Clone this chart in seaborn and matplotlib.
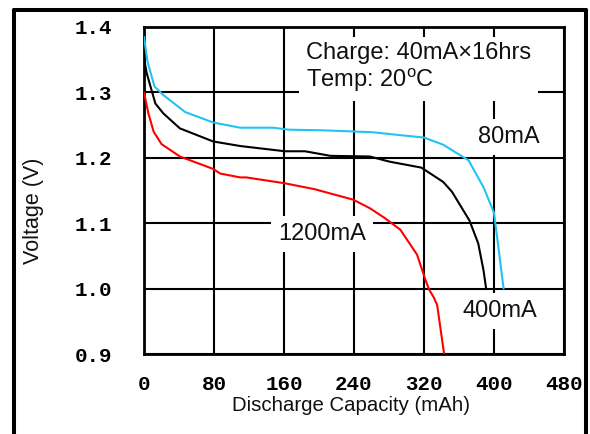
import numpy as np
import pandas as pd
import matplotlib
matplotlib.use("Agg")
import matplotlib.pyplot as plt
import seaborn as sns
from matplotlib.lines import Line2D

# ---- data ----
cap_80 = [0, 4, 12, 22, 47, 79, 110, 148, 165, 205, 262, 290, 320, 342, 371, 388, 400, 404, 411]
v_80 = [1.385, 1.347, 1.309, 1.296, 1.270, 1.254, 1.246, 1.246, 1.243, 1.242, 1.239, 1.235,
        1.231, 1.220, 1.196, 1.155, 1.116, 1.074, 1.000]

cap_400 = [0, 3, 7, 13, 22, 41, 79, 110, 161, 184, 213, 258, 281, 317, 342, 352, 372, 382, 388, 391]
v_400 = [1.352, 1.330, 1.311, 1.283, 1.268, 1.245, 1.225, 1.218, 1.210, 1.210, 1.203, 1.202,
         1.194, 1.185, 1.163, 1.148, 1.104, 1.069, 1.028, 1.000]

cap_1200 = [0, 5, 11, 20, 41, 79, 87, 110, 117, 161, 195, 239, 258, 275, 293, 312, 322, 326,
            331, 335, 343]
v_1200 = [1.300, 1.268, 1.240, 1.221, 1.202, 1.183, 1.176, 1.170, 1.170, 1.161, 1.152, 1.136,
          1.123, 1.108, 1.090, 1.052, 1.012, 0.998, 0.987, 0.975, 0.900]

series_names = ["80mA", "400mA", "1200mA"]
series_colors = ["#22C3F2", "#000000", "#FF0000"]

x_ticks = [0, 80, 160, 240, 320, 400, 480]
x_tick_labels = ["0", "80", "160", "240", "320", "400", "480"]
y_ticks = [0.9, 1.0, 1.1, 1.2, 1.3, 1.4]
y_tick_labels = ["0.9", "1.0", "1.1", "1.2", "1.3", "1.4"]

x_label = "Discharge Capacity (mAh)"
y_label = "Voltage (V)"
note_text = "Charge: 40mA\u00d716hrs\nTemp: 20$^{\\mathrm{o}}$C"
label_pos = {"80mA": (416.6, 1.232), "400mA": (406.3, 0.966), "1200mA": (203.4, 1.083)}

# ---- style ----
sns.set_theme(style="white")
plt.rcParams['font.family'] = ['Liberation Sans', 'DejaVu Sans']
plt.rcParams['mathtext.fontset'] = 'custom'
plt.rcParams['mathtext.rm'] = 'Liberation Sans'
plt.rcParams['mathtext.it'] = 'Liberation Sans'

fig = plt.figure(figsize=(5.9, 4.34), dpi=100)
fig.patch.set_facecolor("white")
ax = fig.add_axes([144 / 590, 1 - 354 / 434, 420 / 590, 327 / 434])
ax.set_facecolor("white")

frames = []
for name, xs, ys in zip(series_names, [cap_80, cap_400, cap_1200], [v_80, v_400, v_1200]):
    frames.append(pd.DataFrame({"cap": xs, "v": ys, "series": name}))
df = pd.concat(frames, ignore_index=True)

sns.lineplot(data=df, x="cap", y="v", hue="series", units="series",
             palette=dict(zip(series_names, series_colors)), sort=False, estimator=None,
             legend=False, ax=ax, linewidth=1.5, zorder=3)

ax.set_xlim(0, 480)
ax.set_ylim(0.9, 1.4)
tick_font = dict(fontfamily="Liberation Mono", fontsize=15, fontweight="bold", color="black")
ax.set_xticks(x_ticks)
ax.set_xticklabels(x_tick_labels, **tick_font)
ax.set_yticks(y_ticks)
ax.set_yticklabels(y_tick_labels, **tick_font)
ax.tick_params(axis="both", length=0)
ax.tick_params(axis="y", pad=23)
ax.tick_params(axis="x", pad=15)

ax.grid(True, color="black", linewidth=1.5)
ax.set_axisbelow(True)
for sp in ax.spines.values():
    sp.set_color("black")
    sp.set_linewidth(2.0)

ax.set_xlabel(x_label, fontsize=14.7, color="#111111")
ax.set_ylabel(y_label, fontsize=15.5, color="#111111")
ax.xaxis.set_label_coords(0.494, -0.128)
ax.yaxis.set_label_coords(-0.238, 0.437)

ax.text(185, 1.377, note_text, ha="left", va="top", fontsize=17, color="#111111",
        linespacing=1.13, zorder=4,
        bbox=dict(boxstyle="square,pad=0.3", fc="white", ec="none"))
for name in series_names:
    x, y = label_pos[name]
    ax.text(x, y, name, ha="center", va="center", fontsize=17, color="#111111", zorder=4,
            bbox=dict(boxstyle="square,pad=0.3", fc="white", ec="none"))

# outer frame (open at the bottom)
lw_frame = 2.9
fx0, fx1, fy1 = 14 / 590, 585.5 / 590, 1 - 9.5 / 434
fig.add_artist(Line2D([fx0, fx0], [-0.05, fy1], transform=fig.transFigure, color="black", lw=lw_frame))
fig.add_artist(Line2D([fx0, fx1], [fy1, fy1], transform=fig.transFigure, color="black", lw=lw_frame))
fig.add_artist(Line2D([fx1, fx1], [fy1, -0.05], transform=fig.transFigure, color="black", lw=lw_frame))

fig.savefig("out.png", dpi=100, facecolor="white")
